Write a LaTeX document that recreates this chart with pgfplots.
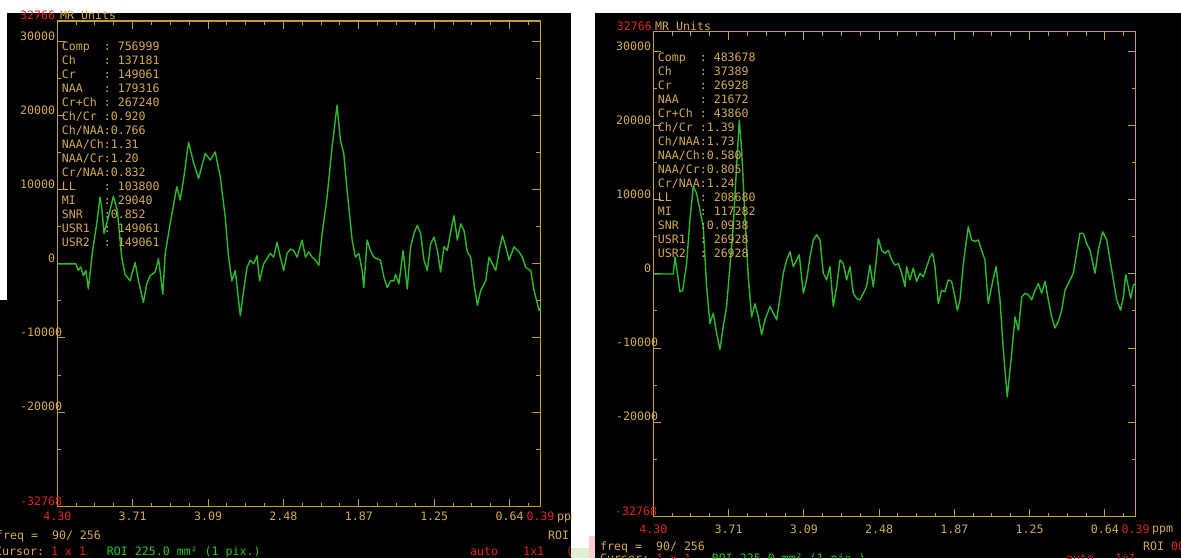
\documentclass[border=0pt]{standalone}
\usepackage{pgfplots}
\pgfplotsset{compat=1.18}
\usepackage{fontspec}
\setmainfont{DejaVu Sans Mono}
\setmonofont{DejaVu Sans Mono}
\definecolor{axcol}{RGB}{196,156,60}
\definecolor{txtcol}{RGB}{212,170,82}
\definecolor{redc}{RGB}{226,36,36}
\definecolor{grn}{RGB}{44,186,44}
\definecolor{grntxt}{RGB}{40,200,40}
\definecolor{pinkish}{RGB}{248,205,205}
\newcommand\mono{\fontsize{11.6}{14}\selectfont}

\pgfplotstableread{
ppm val
4.300 0
4.149 0
4.130 -900
4.111 -400
4.089 -1600
4.068 -900
4.049 -3400
4.014 1800
3.981 5400
3.954 9000
3.938 7200
3.922 4100
3.887 6300
3.846 9100
3.814 7200
3.779 900
3.752 -1400
3.711 -2300
3.670 200
3.643 -2300
3.603 -5200
3.576 -2700
3.549 -1600
3.508 -1100
3.481 700
3.446 -4100
3.427 1400
3.387 5400
3.333 10400
3.306 8600
3.279 11300
3.238 16400
3.198 13700
3.157 11500
3.103 14900
3.062 14000
3.022 15100
2.981 11700
2.941 6300
2.914 900
2.887 -2300
2.860 -900
2.819 -7000
2.792 -3600
2.765 -500
2.738 500
2.711 0
2.684 1100
2.663 -2300
2.630 0
2.576 1400
2.549 900
2.522 2900
2.495 900
2.468 -900
2.441 1400
2.414 2000
2.387 1800
2.360 900
2.319 3200
2.292 900
2.265 1600
2.238 900
2.211 500
2.184 -200
2.157 4100
2.117 9000
2.076 15800
2.036 21400
2.009 16700
1.982 14900
1.955 9900
1.914 3200
1.887 900
1.860 1400
1.833 -900
1.820 -3200
1.793 3200
1.766 1800
1.739 900
1.712 700
1.685 500
1.657 -1800
1.630 -3200
1.603 -2300
1.576 -2300
1.563 -1400
1.536 -2700
1.501 1800
1.468 -3400
1.441 2300
1.414 4100
1.387 5200
1.360 4100
1.333 500
1.306 -900
1.279 2700
1.252 3600
1.225 1800
1.198 -1100
1.171 2300
1.144 1800
1.117 4300
1.090 6500
1.063 3200
1.036 5400
1.009 4500
0.982 1600
0.955 900
0.928 -2700
0.901 -5600
0.874 -3600
0.833 -2300
0.806 900
0.779 0
0.752 -900
0.725 1800
0.698 3800
0.671 2300
0.644 500
0.604 2300
0.563 1600
0.536 900
0.509 -500
0.469 -900
0.442 -3600
0.401 -6300
0.390 -5900
}\leftspec

\pgfplotstableread{
ppm val
4.300 0
4.138 0
4.124 2300
4.105 100
4.084 -2400
4.062 -2200
4.030 1400
4.003 7300
3.976 11800
3.949 10900
3.922 8600
3.895 6400
3.868 -1700
3.841 -6700
3.814 -5300
3.787 -8000
3.760 -10200
3.733 -7100
3.706 -4400
3.679 1000
3.652 6400
3.625 14500
3.603 20800
3.584 16800
3.557 7700
3.530 -400
3.503 -5800
3.476 -4000
3.449 -5800
3.422 -8200
3.395 -6200
3.354 -4400
3.327 -5300
3.300 -6200
3.273 -3100
3.246 100
3.219 1900
3.192 3000
3.165 1000
3.138 1900
3.117 2600
3.084 -2600
3.057 -800
3.030 2300
3.003 4600
2.976 5300
2.949 4600
2.922 100
2.895 -800
2.868 1000
2.841 -4400
2.814 -1700
2.787 1900
2.760 1400
2.733 -800
2.706 1000
2.679 -2600
2.652 -3300
2.625 -3500
2.598 -2600
2.571 -1700
2.544 1200
2.517 -1700
2.490 2300
2.476 4800
2.449 3200
2.422 2800
2.395 3200
2.368 1900
2.341 1200
2.314 1400
2.287 100
2.260 -1700
2.247 1000
2.220 -800
2.193 800
2.166 -1000
2.138 100
2.111 -400
2.084 1000
2.057 2300
2.036 2800
2.017 1000
1.990 -4000
1.963 -2200
1.936 -2400
1.909 -800
1.882 -1000
1.855 -3100
1.836 -4900
1.814 -3500
1.787 1400
1.747 6400
1.720 4600
1.693 4400
1.666 4600
1.639 3200
1.612 1900
1.585 -4000
1.558 -1700
1.522 1000
1.490 -3500
1.463 -10300
1.431 -16600
1.395 -10700
1.368 -5800
1.341 -7600
1.314 -3100
1.287 -2600
1.260 -2800
1.233 -3500
1.206 -2200
1.179 -1300
1.152 -2600
1.125 -1000
1.098 -3500
1.071 -5800
1.044 -7300
1.017 -6400
0.990 -4900
0.963 -2200
0.936 -1300
0.896 100
0.869 2800
0.842 5500
0.815 5500
0.787 4100
0.760 3200
0.720 100
0.693 3200
0.658 5700
0.625 4600
0.598 1900
0.571 -800
0.544 -3500
0.512 -4900
0.490 -3100
0.471 -100
0.450 -1700
0.431 -3300
0.409 -1500
0.390 -1300
}\rightspec

\pgfplotsset{mrs/.style={
  scale only axis, anchor=south west,
  axis line style={axcol, line width=1.3pt},
  x dir=reverse, xmin=0.39, xmax=4.30, ymin=-32768, ymax=32766,
  scaled ticks=false,
  xtick={4.30,3.69,3.08,2.47,1.86,1.25,0.64,0.39},
  xticklabels={{\textcolor{redc}{4.30}},3.71,3.09,2.48,1.87,1.25,0.64,{\textcolor{redc}{0.39}}},
  minor xtick={4.1475,3.995,...,0.45},
  ytick={-20000,-10000,0,10000,20000,30000},
  yticklabels={-2000\rlap{0},-1000\rlap{0},0,10000,20000,30000},
  minor ytick={-25000,-15000,-5000,5000,15000,25000},
  tick style={axcol, line width=1pt},
  major tick length=8pt, minor tick length=4pt,
  tick align=inside,
  ticklabel style={font=\mono, text=txtcol, inner sep=0pt},
  yticklabel style={anchor=base east, xshift=-2pt, yshift=1.5pt},
}}

\begin{document}
\begin{tikzpicture}[x=1pt,y=1pt]
\clip (0,0) rectangle (1181,558);
\fill[white] (0,0) rectangle (1181,558);
\fill[black] (7,0) rectangle (571,545);
\fill[black] (0,0) rectangle (8,258);
\fill[black] (595,0) rectangle (1181,545);
\fill[pinkish] (589,0) rectangle (595,22);
\fill[pinkish!70!green!40] (571,0) rectangle (589,10);

% ---------------- left panel ----------------
\begin{axis}[mrs, at={(57.3pt,51.3pt)}, width=483.2pt, height=485.7pt,
  xticklabel style={anchor=base, yshift=-14.2pt}]
\addplot[grn, line width=1.4pt, line join=round] table[x=ppm, y=val] {\leftspec};
\end{axis}

\node[anchor=base east, inner sep=0pt, text=redc, font=\mono] at (55.3,538) {32766};
\node[anchor=base west, inner sep=0pt, text=txtcol, font=\mono] at (60,538) {MR~Units};
\node[anchor=base west, inner sep=0pt, text=redc, font=\mono] at (20,52.1) {-32768};
\begin{scope}
\clip (0,0) rectangle (571,545);
\node[anchor=base west, inner sep=0pt, text=txtcol, font=\mono] at (557,37.1) {ppm};
\node[anchor=base west, inner sep=0pt, text=redc, font=\mono] at (566,2.1) {(};
\end{scope}
\foreach \s [count=\i from 0] in {Comp~~:~756999, Ch~~~~:~137181, Cr~~~~:~149061, NAA~~~:~179316, Cr+Ch~:~267240, Ch/Cr~:0.920, Ch/NAA:0.766, NAA/Ch:1.31, NAA/Cr:1.20, Cr/NAA:0.832, LL~~~~:~103800, MI~~~~:~29040, SNR~~~:0.852, USR1~~:~149061, USR2~~:~149061}
  \node[anchor=base west, inner sep=0pt, text=txtcol, font=\mono] at (61.7, 507.1-14*\i) {\s};
\node[anchor=base west, inner sep=0pt, text=txtcol, font=\mono] at (-4,18.8) {freq~=~~90/~256};
\node[anchor=base west, inner sep=0pt, text=txtcol, font=\mono] at (548,18.8) {ROI};
\node[anchor=base west, inner sep=0pt, font=\mono] at (-5,2.1) {\textcolor{txtcol}{Cursor:~}\textcolor{redc}{1~x~1}\textcolor{grntxt}{~~~ROI~225.0~mm²~(1~pix.)}};
\node[anchor=base west, inner sep=0pt, text=redc, font=\mono] at (470,2.1) {auto};
\node[anchor=base west, inner sep=0pt, text=redc, font=\mono] at (523,2.1) {1x1};

% ---------------- right panel ----------------
\begin{axis}[mrs, at={(653.3pt,41.5pt)}, width=482.4pt, height=485pt,
  xticklabel style={anchor=base, yshift=-17pt}]
\addplot[grn, line width=1.4pt, line join=round] table[x=ppm, y=val] {\rightspec};
\end{axis}

\node[anchor=base east, inner sep=0pt, text=redc, font=\mono] at (652,527.5) {32766};
\node[anchor=base west, inner sep=0pt, text=txtcol, font=\mono] at (655,527.5) {MR~Units};
\node[anchor=base west, inner sep=0pt, text=redc, font=\mono] at (615,42.1) {-32768};
\node[anchor=base west, inner sep=0pt, text=txtcol, font=\mono] at (1152,25.8) {ppm};
\foreach \s [count=\i from 0] in {Comp~~:~483678, Ch~~~~:~37389, Cr~~~~:~26928, NAA~~~:~21672, Cr+Ch~:~43860, Ch/Cr~:1.39, Ch/NAA:1.73, NAA/Ch:0.580, NAA/Cr:0.805, Cr/NAA:1.24, LL~~~~:~208680, MI~~~~:~117282, SNR~~~:0.0938, USR1~~:~26928, USR2~~:~26928}
  \node[anchor=base west, inner sep=0pt, text=txtcol, font=\mono] at (657.7, 496.8-14*\i) {\s};
\node[anchor=base west, inner sep=0pt, text=txtcol, font=\mono] at (600,7.8) {freq~=~~90/~256};
\node[anchor=base west, inner sep=0pt, font=\mono] at (1143,7.8) {\textcolor{txtcol}{ROI}~\textcolor{redc}{00}};
\node[anchor=base west, inner sep=0pt, font=\mono] at (600,-4.4) {\textcolor{txtcol}{Cursor:~}\textcolor{redc}{1~x~1}\textcolor{grntxt}{~~~ROI~225.0~mm²~(1~pix.)}};
\node[anchor=base west, inner sep=0pt, text=redc, font=\mono] at (1066,-4.4) {auto~~~1x1};
\end{tikzpicture}
\end{document}
